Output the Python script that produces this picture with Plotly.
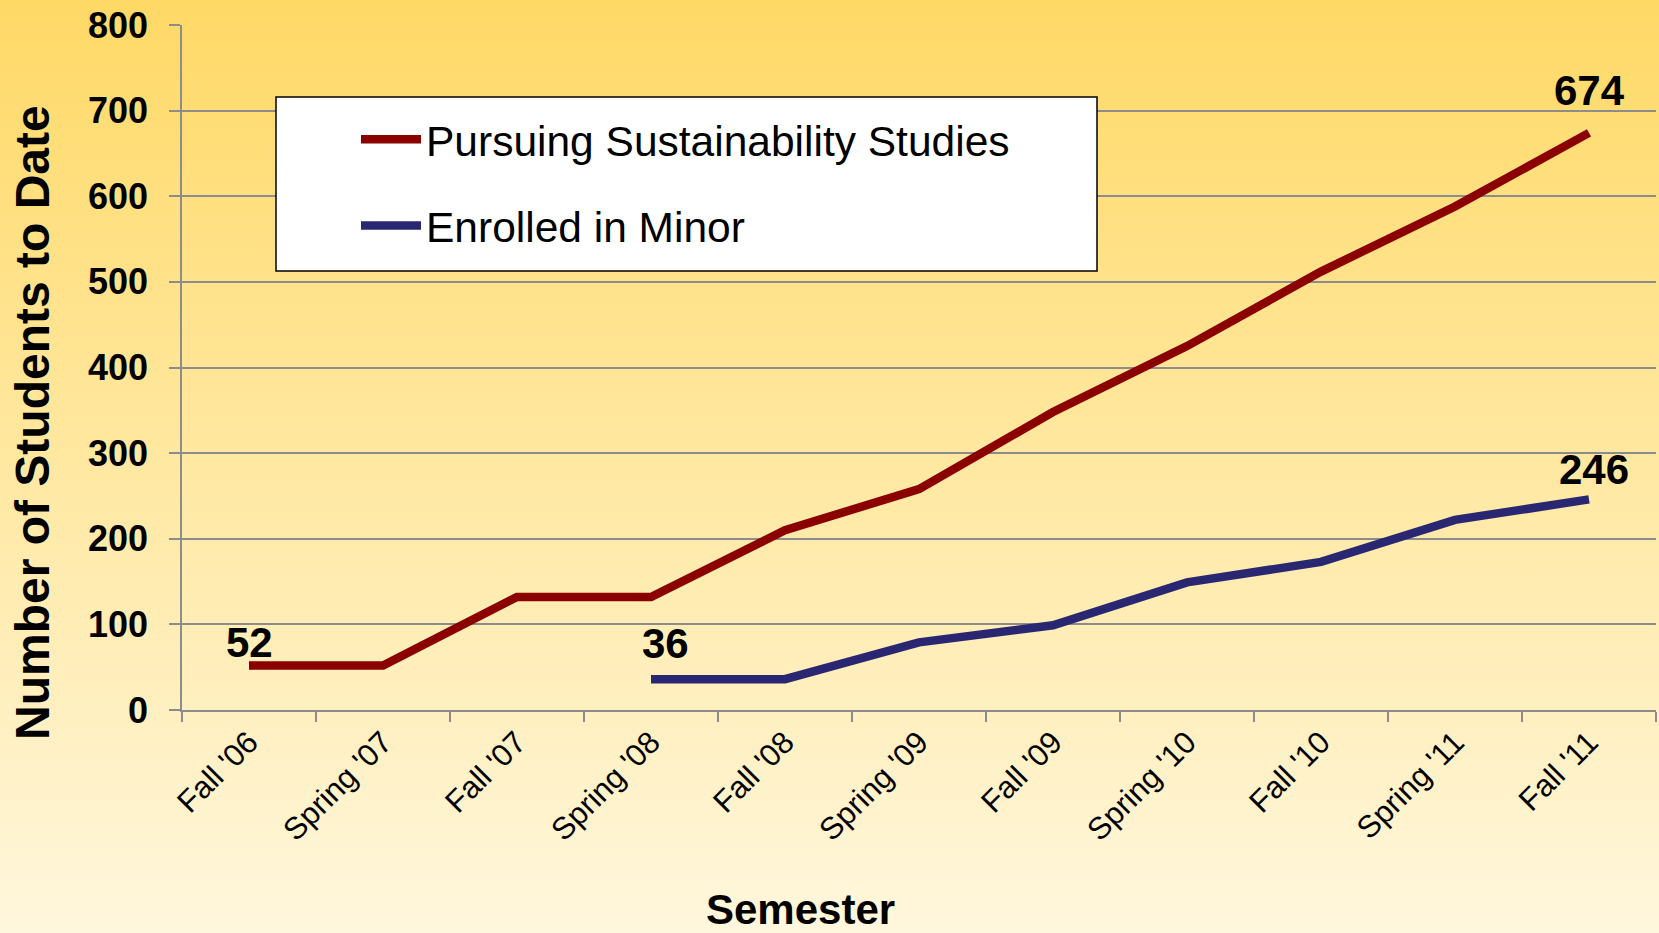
import base64
import plotly.graph_objects as go

# data
semesters = ["Fall '06", "Spring '07", "Fall '07", "Spring '08", "Fall '08", "Spring '09",
             "Fall '09", "Spring '10", "Fall '10", "Spring '11", "Fall '11"]
pursuing = [52, 52, 132, 132, 210, 258, 348, 425, 512, 588, 674]
minor = [None, None, None, 36, 36, 79, 99, 149, 173, 222, 246]

RED = "#8B0000"
BLUE = "#2A2772"
GRID = "#8C8C8C"
FONT = "Liberation Sans, Arial, sans-serif"

W, H = 1659, 933
L, R, T, B = 182, 3, 25, 223
pw, ph = W - L - R, H - T - B


def px_x(x):
    return (x - L) / pw


def px_y(y):
    return (H - B - y) / ph


# background gradient (svg as data uri)
svg = ('<svg xmlns="http://www.w3.org/2000/svg" width="100" height="100" preserveAspectRatio="none">'
       '<defs><linearGradient id="g" x1="0" y1="0" x2="0" y2="1">'
       '<stop offset="0" stop-color="#FFD966"/><stop offset="1" stop-color="#FFF7DD"/>'
       '</linearGradient></defs><rect width="100" height="100" fill="url(#g)"/></svg>')
bg_uri = "data:image/svg+xml;base64," + base64.b64encode(svg.encode()).decode()

fig = go.Figure()

fig.add_trace(go.Scatter(
    x=semesters, y=pursuing, mode="lines", name="Pursuing Sustainability Studies",
    line=dict(color=RED, width=8.5), legendgroup="a"))
fig.add_trace(go.Scatter(
    x=semesters, y=minor, mode="lines", name="Enrolled in Minor",
    line=dict(color=BLUE, width=8.5), legendgroup="b"))

# labels at start / end of each line (value, x nudge, y nudge)
labels = [
    (semesters[0], pursuing[0], 0, -3),
    (semesters[-1], pursuing[-1], 0, 17),
    (semesters[3], minor[3], 14, 10),
    (semesters[-1], minor[-1], 5, 4),
]
for sx, sy, dx, dy in labels:
    fig.add_annotation(x=sx, y=sy, text=str(sy), showarrow=False, xanchor="center", yanchor="bottom",
                       xshift=dx, yshift=dy,
                       font=dict(family=FONT, size=42, color="black", weight="bold"))

# axis titles
fig.add_annotation(xref="paper", yref="paper", x=px_x(32), y=px_y(423), text="Number of Students to Date",
                   textangle=-90, showarrow=False, xanchor="center", yanchor="middle",
                   font=dict(family=FONT, size=48, color="black", weight="bold"))
fig.add_annotation(xref="paper", yref="paper", x=px_x(800), y=px_y(909), text="Semester",
                   showarrow=False, xanchor="center", yanchor="middle",
                   font=dict(family=FONT, size=42, color="black", weight="bold"))

# legend box
fig.add_shape(type="rect", xref="paper", yref="paper", x0=px_x(276), x1=px_x(1097),
              y0=px_y(271), y1=px_y(97), fillcolor="white", line=dict(color="black", width=1.5),
              layer="above")

fig.add_layout_image(source=bg_uri, xref="paper", yref="paper", x=px_x(0), y=px_y(0),
                     sizex=W / pw, sizey=H / ph, sizing="stretch", xanchor="left", yanchor="top",
                     layer="below")

fig.update_layout(
    width=W, height=H,
    margin=dict(l=L, r=R, t=T, b=B, autoexpand=False),
    paper_bgcolor="#FFE9A6",
    plot_bgcolor="rgba(0,0,0,0)",
    showlegend=True,
    legend=dict(x=px_x(356), y=px_y(105), xanchor="left", yanchor="top",
                bgcolor="rgba(0,0,0,0)", borderwidth=0, itemwidth=60,
                traceorder="grouped", tracegroupgap=28,
                font=dict(family=FONT, size=42.5, color="black")),
    xaxis=dict(
        type="category", categoryorder="array", categoryarray=semesters,
        range=[-0.5, len(semesters) - 0.5], tickson="boundaries",
        ticks="outside", ticklen=10, tickwidth=1.5, tickcolor=GRID,
        showline=True, linecolor=GRID, linewidth=1.5, showgrid=False, zeroline=False,
        tickangle=-45, tickfont=dict(family=FONT, size=31, color="black"),
        automargin=False),
    yaxis=dict(
        range=[0, 800], dtick=100, tick0=0,
        ticks="outside", ticklen=11, tickwidth=1.5, tickcolor=GRID,
        showline=True, linecolor=GRID, linewidth=1.5,
        showgrid=True, gridcolor=GRID, gridwidth=1.5, zeroline=False,
        tickfont=dict(family=FONT, size=36, color="black", weight="bold"),
        ticklabelstandoff=14,
        automargin=False),
)

fig.write_html("out.html", config={"displayModeBar": False},
               post_script="document.body.style.margin='0';")
